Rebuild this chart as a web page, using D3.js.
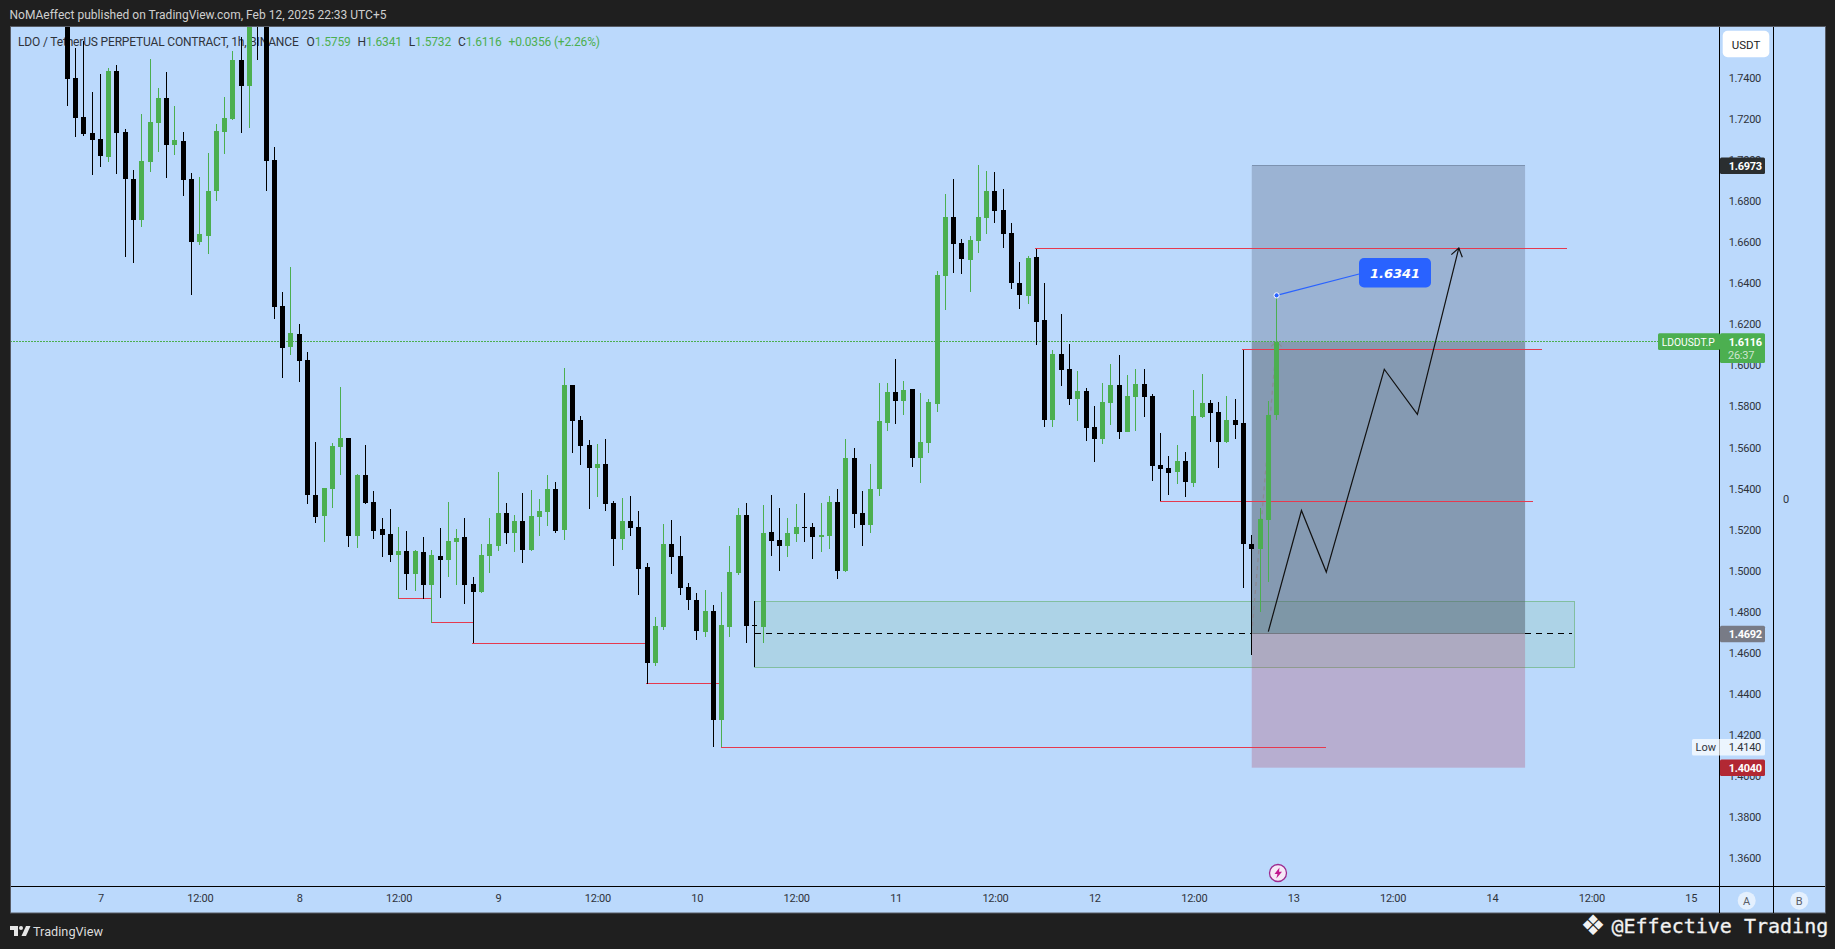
<!DOCTYPE html>
<html>
<head>
<meta charset="utf-8">
<title>LDOUSDT.P 1h</title>
<script src="https://cdn.jsdelivr.net/npm/d3@7"></script>
<style>
html, body { margin: 0; padding: 0; background: #1f1f1f; overflow: hidden; }
text { font-family: Roboto, sans-serif; }
.num { letter-spacing: -0.25px; }
</style>
</head>
<body>
<div id="chart"></div>
<script>
const opens = [
  1.7900,1.7400,1.7210,1.7132,1.7103,1.7017,1.7434,1.7137,1.6908,1.6710,
  1.6992,1.7182,1.7302,1.7075,1.7093,1.6908,1.6601,1.6632,1.6851,1.7138,
  1.7200,1.7488,1.7362,1.7900,1.7750,1.7000,1.6289,1.6091,1.6153,1.6026,
  1.5368,1.5268,1.5399,1.5602,1.5646,1.5170,1.5466,1.5334,1.5203,1.5178,
  1.5078,1.5095,1.4985,1.5091,1.4931,1.5071,1.5053,1.5139,1.5164,1.4935,
  1.4897,1.5073,1.5121,1.5281,1.5185,1.5242,1.5102,1.5263,1.5287,1.5398,
  1.5199,1.5904,1.5733,1.5612,1.5501,1.5519,1.5329,1.5154,1.5241,1.5212,
  1.5017,1.4551,1.4727,1.5129,1.5071,1.4920,1.4856,1.4702,1.4803,1.4273,
  1.4727,1.4990,1.5271,1.4735,1.4727,1.5188,1.5149,1.5120,1.5180,1.5212,
  1.5212,1.5165,1.5168,1.5334,1.4998,1.5548,1.5280,1.5222,1.5397,1.5719,
  1.5870,1.5828,1.5885,1.5548,1.5622,1.5812,1.6435,1.6723,1.6596,1.6513,
  1.6606,1.6718,1.6849,1.6757,1.6645,1.6401,1.6338,1.6528,1.6221,1.5734,
  1.6055,1.5982,1.5836,1.5875,1.5699,1.5641,1.5816,1.5904,1.5675,1.5846,
  1.5909,1.5850,1.5514,1.5500,1.5480,1.5534,1.5427,1.5748,1.5816,1.5773,
  1.5626,1.5734,1.5720,1.5130,1.5106,1.5247,1.5759
];
const highs = [
  1.7980,1.7548,1.7580,1.7332,1.7419,1.7449,1.7463,1.7151,1.6952,1.7224,
  1.7492,1.7351,1.7429,1.7263,1.7137,1.6937,1.6918,1.7034,1.7176,1.7307,
  1.7531,1.7601,1.7800,1.8000,1.7800,1.7062,1.6357,1.6479,1.6201,1.6065,
  1.5627,1.5402,1.5622,1.5894,1.5646,1.5471,1.5612,1.5388,1.5256,1.5300,
  1.5212,1.5193,1.5100,1.5164,1.5100,1.5207,1.5334,1.5203,1.5256,1.4969,
  1.5130,1.5256,1.5480,1.5329,1.5271,1.5378,1.5393,1.5349,1.5466,1.5432,
  1.5987,1.5904,1.5753,1.5636,1.5617,1.5641,1.5339,1.5353,1.5363,1.5290,
  1.5037,1.4774,1.5227,1.5246,1.5168,1.4939,1.4891,1.4905,1.4832,1.4895,
  1.5120,1.5305,1.5329,1.4852,1.5319,1.5368,1.5305,1.5256,1.5324,1.5378,
  1.5232,1.5329,1.5363,1.5397,1.5641,1.5597,1.5388,1.5519,1.5914,1.5914,
  1.6031,1.5924,1.5885,1.5865,1.5836,1.6460,1.6835,1.6908,1.6615,1.6630,
  1.6976,1.6947,1.6942,1.6859,1.6693,1.6503,1.6533,1.6567,1.6401,1.6075,
  1.6250,1.6104,1.5972,1.5889,1.5802,1.5914,1.6006,1.6050,1.5953,1.5982,
  1.5982,1.5860,1.5670,1.5558,1.5612,1.5578,1.5880,1.5958,1.5831,1.5821,
  1.5850,1.5836,1.6075,1.5174,1.5305,1.5827,1.6341
];
const lows = [
  1.7265,1.7114,1.7119,1.6929,1.6968,1.6992,1.6934,1.6529,1.6500,1.6676,
  1.6943,1.7041,1.6914,1.7026,1.6827,1.6344,1.6586,1.6544,1.6802,1.7031,
  1.7195,1.7133,1.7158,1.7489,1.6851,1.6227,1.5940,1.6052,1.5920,1.5326,
  1.5234,1.5141,1.5307,1.5467,1.5117,1.5112,1.5326,1.5155,1.5068,1.5043,
  1.4862,1.4907,1.4902,1.4862,1.4745,1.4868,1.4970,1.4931,1.4839,1.4647,
  1.4892,1.4990,1.5097,1.5131,1.5092,1.5039,1.5097,1.5170,1.5219,1.5185,
  1.5151,1.5575,1.5514,1.5300,1.5358,1.5290,1.5024,1.5100,1.5168,1.4881,
  1.4450,1.4535,1.4710,1.4983,1.4881,1.4808,1.4662,1.4676,1.4140,1.4140,
  1.4676,1.4978,1.4647,1.4530,1.4647,1.5071,1.4998,1.5066,1.5139,1.5139,
  1.5056,1.5090,1.5105,1.4959,1.4993,1.5207,1.5120,1.5183,1.5363,1.5680,
  1.5714,1.5758,1.5505,1.5427,1.5573,1.5773,1.6270,1.6450,1.6445,1.6357,
  1.6547,1.6640,1.6693,1.6572,1.6372,1.6274,1.6299,1.6099,1.5700,1.5700,
  1.5899,1.5807,1.5729,1.5631,1.5529,1.5617,1.5709,1.5641,1.5675,1.5680,
  1.5748,1.5436,1.5339,1.5368,1.5422,1.5358,1.5407,1.5743,1.5626,1.5500,
  1.5622,1.5641,1.4916,1.4589,1.4799,1.4945,1.5732
];
const closes = [
  1.7397,1.7207,1.7129,1.7098,1.7021,1.7434,1.7133,1.6909,1.6710,1.6995,
  1.7185,1.7302,1.7075,1.7098,1.6905,1.6602,1.6640,1.6849,1.7142,1.7205,
  1.7488,1.7362,1.7720,1.7700,1.6997,1.6286,1.6086,1.6157,1.6023,1.5370,
  1.5263,1.5402,1.5607,1.5646,1.5170,1.5466,1.5329,1.5194,1.5175,1.5078,
  1.5095,1.4985,1.5095,1.4931,1.5076,1.5052,1.5144,1.5159,1.4931,1.4897,
  1.5076,1.5130,1.5281,1.5185,1.5242,1.5102,1.5266,1.5290,1.5398,1.5194,
  1.5904,1.5730,1.5608,1.5501,1.5519,1.5326,1.5155,1.5241,1.5209,1.5009,
  1.4551,1.4730,1.5129,1.5068,1.4917,1.4858,1.4707,1.4803,1.4273,1.4735,
  1.4993,1.5271,1.4731,1.4730,1.5183,1.5146,1.5121,1.5183,1.5212,1.5209,
  1.5165,1.5173,1.5334,1.4999,1.5548,1.5277,1.5222,1.5397,1.5729,1.5870,
  1.5828,1.5880,1.5548,1.5626,1.5821,1.6440,1.6723,1.6591,1.6518,1.6611,
  1.6723,1.6849,1.6752,1.6640,1.6401,1.6343,1.6523,1.6211,1.5734,1.6055,
  1.5977,1.5836,1.5875,1.5695,1.5641,1.5821,1.5904,1.5675,1.5850,1.5909,
  1.5846,1.5509,1.5495,1.5475,1.5534,1.5431,1.5753,1.5816,1.5768,1.5626,
  1.5734,1.5709,1.5130,1.5106,1.5252,1.5759,1.6116
];

const timeLabels = ["7","12:00","8","12:00","9","12:00","10","12:00","11","12:00","12","12:00","13","12:00","14","12:00","15"];
const timeTicks = timeLabels.map((_, i) => 4 + i * 12);
const priceTicks = [1.36,1.38,1.40,1.42,1.44,1.46,1.48,1.50,1.52,1.54,1.56,1.58,1.60,1.62,1.64,1.66,1.68,1.70,1.72,1.74];

// horizontal red levels: candle index from, candle index to, price
const levelStart = [40, 44, 49, 70, 79, 117, 142, 132];
const levelEnd = [44, 49, 70, 79, 152, 181, 178, 177];
const levelPrice = [1.4862, 1.4745, 1.4647, 1.4450, 1.4140, 1.6567, 1.6075, 1.5339];

// drawn forecast path
const pathIndex = [145, 149, 152, 159, 163, 168];
const pathPrice = [1.4703, 1.5293, 1.4993, 1.5981, 1.5761, 1.6572];

const lastPrice = 1.6116, highPrice = 1.6341, targetPrice = 1.6973, entryPrice = 1.4692, stopPrice = 1.4040, lowPrice = 1.4140;
const zoneTop = 1.4852, zoneBottom = 1.4530, zoneFrom = 83, zoneTo = 182;
const boxFrom = 143, boxTo = 176;

const legendLabels = ["O", "H", "L", "C"];
const legendValues = ["1.5759", "1.6341", "1.5732", "1.6116"];

const width = 1835, height = 949;
const plotLeft = 10, plotTop = 27, paneRight = 1719, sideRight = 1773, plotRight = 1825, axisY = 886, plotBottom = 913;
const bg = "#bbd9fc", green = "#4caf50", red = "#e53a4f", ink = "#2f333b";

const x = d3.scaleLinear().domain([0, 146]).range([67.3, 1276.6]);
const y = d3.scaleLinear().domain([1.74, 1.36]).range([78, 858]);

const svg = d3.select("#chart").append("svg")
  .attr("width", width).attr("height", height)
  .style("display", "block");

svg.append("rect").attr("width", width).attr("height", height).attr("fill", "#1f1f1f");
svg.append("rect")
  .attr("x", plotLeft + 0.5).attr("y", plotTop - 0.5)
  .attr("width", plotRight - plotLeft).attr("height", plotBottom - plotTop + 0.5)
  .attr("fill", bg).attr("stroke", "#565a63");

svg.append("defs").append("clipPath").attr("id", "pane")
  .append("rect").attr("x", plotLeft + 1).attr("y", plotTop)
  .attr("width", paneRight - plotLeft - 1).attr("height", axisY - plotTop);

// header and footer
svg.append("text").attr("x", 9.5).attr("y", 19)
  .attr("font-size", 12).attr("fill", "#cfcfcf")
  .attr("textLength", 377).attr("lengthAdjust", "spacingAndGlyphs")
  .text("NoMAeffect published on TradingView.com, Feb 12, 2025 22:33 UTC+5");

const logo = svg.append("g").attr("transform", "translate(10,926)").attr("fill", "#e6e6e6");
logo.append("path").attr("d", "M0 0h8v10h-4v-6h-4z");
logo.append("circle").attr("cx", 11).attr("cy", 2).attr("r", 2);
logo.append("path").attr("d", "M16 0h4.5l-4.5 10h-4.5z");
svg.append("text").attr("x", 33).attr("y", 936)
  .attr("font-size", 13).attr("fill", "#dcdcdc")
  .attr("textLength", 70).attr("lengthAdjust", "spacingAndGlyphs")
  .text("TradingView");

svg.append("text").attr("x", 1593).attr("y", 935)
  .attr("text-anchor", "middle")
  .style("font-family", "'DejaVu Sans'")
  .attr("font-size", 28).attr("fill", "#f2f2f2").text("\u2756");
svg.append("text").attr("x", 1611.5).attr("y", 933)
  .style("font-family", "'DejaVu Sans Mono'")
  .attr("font-size", 20).attr("fill", "#f2f2f2")
  .attr("stroke", "#f2f2f2").attr("stroke-width", 0.3)
  .text("@Effective Trading");

// legend sits under the candles
const legend = svg.append("text").attr("x", 18).attr("y", 46)
  .attr("font-size", 12).attr("fill", ink)
  .attr("textLength", 582).attr("lengthAdjust", "spacing");
legend.append("tspan").text("LDO / TetherUS PERPETUAL CONTRACT, 1h, BINANCE");
legendLabels.forEach((l, i) => {
  legend.append("tspan").attr("dx", i === 0 ? 8 : 7).text(l);
  legend.append("tspan").attr("fill", green).text(legendValues[i]);
});
legend.append("tspan").attr("dx", 7).attr("fill", green).text("+0.0356 (+2.26%)");

const pane = svg.append("g").attr("clip-path", "url(#pane)");

// order block zone
pane.append("rect")
  .attr("x", x(zoneFrom)).attr("y", y(zoneTop))
  .attr("width", x(zoneTo) - x(zoneFrom)).attr("height", y(zoneBottom) - y(zoneTop))
  .attr("fill", green).attr("fill-opacity", 0.12)
  .attr("stroke", "#82bea0").attr("shape-rendering", "crispEdges");
pane.append("line")
  .attr("x1", x(zoneFrom)).attr("x2", x(zoneTo) - 3)
  .attr("y1", y(entryPrice)).attr("y2", y(entryPrice))
  .attr("stroke", "#000").attr("stroke-dasharray", "6 5").attr("shape-rendering", "crispEdges");

// position box
const boxParts = [
  { from: targetPrice, to: lastPrice, fill: "rgb(84,94,115)", opacity: 0.3 },
  { from: lastPrice, to: entryPrice, fill: "rgb(79,91,104)", opacity: 0.5 },
  { from: entryPrice, to: stopPrice, fill: "rgb(174,77,105)", opacity: 0.3 }
];
pane.selectAll("rect.box").data(boxParts).enter().append("rect")
  .classed("box", true)
  .attr("x", x(boxFrom)).attr("width", x(boxTo) - x(boxFrom))
  .attr("y", d => y(d.from)).attr("height", d => y(d.to) - y(d.from))
  .attr("fill", d => d.fill).attr("fill-opacity", d => d.opacity);
[[targetPrice, "#7c92b0"], [entryPrice, "#737882"]].forEach(p => {
  pane.append("line")
    .attr("x1", x(boxFrom)).attr("x2", x(boxTo))
    .attr("y1", y(p[0])).attr("y2", y(p[0]))
    .attr("stroke", p[1]).attr("shape-rendering", "crispEdges");
});

// last price line
pane.append("line")
  .attr("x1", plotLeft).attr("x2", 1658)
  .attr("y1", y(lastPrice)).attr("y2", y(lastPrice))
  .attr("stroke", green).attr("stroke-dasharray", "2 1").attr("shape-rendering", "crispEdges");

// red levels
pane.selectAll("line.level").data(levelPrice).enter().append("line")
  .classed("level", true)
  .attr("x1", (d, i) => x(levelStart[i]) - 1).attr("x2", (d, i) => x(levelEnd[i]))
  .attr("y1", d => y(d)).attr("y2", d => y(d))
  .attr("stroke", red).attr("shape-rendering", "crispEdges");

// dashed ghost forecast under the last candles
const ghostEnd = [x(146), y(lastPrice)];
pane.append("line")
  .attr("x1", x(boxFrom)).attr("y1", y(entryPrice))
  .attr("x2", ghostEnd[0]).attr("y2", ghostEnd[1])
  .attr("stroke", "#8a8a96").attr("stroke-width", 1.3).attr("stroke-dasharray", "4 4");
pane.append("path")
  .attr("d", d3.line()([[ghostEnd[0] - 5.5, ghostEnd[1] + 5], ghostEnd, [ghostEnd[0] + 5, ghostEnd[1] + 5]]))
  .attr("fill", "none").attr("stroke", "#8a8a96").attr("stroke-width", 1.2);

// candles
const candles = opens.map((o, i) => ({ i: i, o: o, h: highs[i], l: lows[i], c: closes[i] }));
const colorOf = d => d.c >= d.o ? green : "#000";
pane.selectAll("rect.wick").data(candles).enter().append("rect")
  .classed("wick", true)
  .attr("x", d => Math.floor(x(d.i))).attr("width", 1)
  .attr("y", d => Math.round(y(d.h)))
  .attr("height", d => Math.round(y(d.l)) - Math.round(y(d.h)))
  .attr("fill", colorOf).attr("shape-rendering", "crispEdges");
pane.selectAll("rect.body").data(candles).enter().append("rect")
  .classed("body", true)
  .attr("x", d => Math.floor(x(d.i)) - 2).attr("width", 5)
  .attr("y", d => Math.round(y(Math.max(d.o, d.c))))
  .attr("height", d => Math.max(1, Math.round(y(Math.min(d.o, d.c))) - Math.round(y(Math.max(d.o, d.c)))))
  .attr("fill", colorOf).attr("shape-rendering", "crispEdges");

// forecast path with arrow head
const pathPts = pathIndex.map((d, i) => [x(d), y(pathPrice[i])]);
pane.append("path")
  .attr("d", d3.line()(pathPts))
  .attr("fill", "none").attr("stroke", "#111").attr("stroke-width", 1.2);
const tip = pathPts[pathPts.length - 1], prev = pathPts[pathPts.length - 2];
const ang = Math.atan2(tip[1] - prev[1], tip[0] - prev[0]);
const wing = a => [tip[0] - 10 * Math.cos(ang + a), tip[1] - 10 * Math.sin(ang + a)];
pane.append("path")
  .attr("d", d3.line()([wing(0.6), tip, wing(-0.6)]))
  .attr("fill", "none").attr("stroke", "#111").attr("stroke-width", 1.2);

// blue callout
const calloutX = 1359, calloutY = y(1.6450);
pane.append("line")
  .attr("x1", x(146)).attr("y1", y(highPrice))
  .attr("x2", calloutX + 4).attr("y2", calloutY)
  .attr("stroke", "#2962ff").attr("stroke-width", 1.1);
pane.append("circle")
  .attr("cx", x(146)).attr("cy", y(highPrice)).attr("r", 2.6)
  .attr("fill", "#2962ff").attr("stroke", "#fff").attr("stroke-width", 1);
pane.append("rect")
  .attr("x", calloutX).attr("y", calloutY - 15)
  .attr("width", 72).attr("height", 29.5).attr("rx", 5)
  .attr("fill", "#2962ff");
pane.append("text")
  .attr("x", calloutX + 36).attr("y", calloutY + 4.5)
  .attr("text-anchor", "middle")
  .style("font-family", "'DejaVu Sans'")
  .attr("font-size", 13).attr("font-weight", "bold").attr("font-style", "italic")
  .attr("fill", "#fff").text("1.6341");

// lightning badge
const badge = pane.append("g").attr("transform", `translate(${x(146) + 1.4},873)`);
badge.append("circle").attr("r", 8.5).attr("fill", "#f6e8f6").attr("stroke", "#9c2a8f").attr("stroke-width", 1.3);
badge.append("path").attr("d", "M1.5 -5.5L-3.5 1h3l-1.2 4.5L4 -1.2h-3z").attr("fill", "#c2188f");

// axes
const yAxis = svg.append("g")
  .attr("transform", `translate(${paneRight},0)`)
  .call(d3.axisRight(y).tickValues(priceTicks).tickSize(0).tickPadding(9.7).tickFormat(d3.format(".4f")));
const xAxis = svg.append("g")
  .attr("transform", `translate(0,${axisY})`)
  .call(d3.axisBottom(x).tickValues(timeTicks).tickSize(0).tickPadding(8).tickFormat((d, i) => timeLabels[i]));
[yAxis, xAxis].forEach(a => {
  a.select(".domain").remove();
  a.attr("font-family", null).attr("font-size", null);
  a.selectAll("text").attr("font-size", 11).attr("fill", ink).classed("num", true);
});

// pane separators
[paneRight, sideRight].forEach(v => {
  svg.append("line").attr("x1", v + 0.5).attr("x2", v + 0.5)
    .attr("y1", plotTop).attr("y2", plotBottom)
    .attr("stroke", "#000");
});
svg.append("line").attr("x1", plotLeft + 1).attr("x2", plotRight)
  .attr("y1", axisY + 0.5).attr("y2", axisY + 0.5)
  .attr("stroke", "#000");

svg.append("text").attr("x", 1783).attr("y", 502.5)
  .attr("font-size", 11).attr("fill", ink).text("0");

// currency button
svg.append("rect").attr("x", 1722.7).attr("y", 30.7)
  .attr("width", 46.6).attr("height", 26.6).attr("rx", 5).attr("fill", "#fff");
svg.append("text").attr("x", 1746).attr("y", 48.5)
  .attr("text-anchor", "middle").attr("font-size", 11.5).attr("fill", "#222").text("USDT");

// price tags
const priceTags = [
  { price: targetPrice, fill: "#2a2e30" },
  { price: entryPrice, fill: "#787b86" },
  { price: stopPrice, fill: "#b22833" }
];
svg.selectAll("rect.tag").data(priceTags).enter().append("rect")
  .classed("tag", true)
  .attr("x", paneRight + 1).attr("width", 45)
  .attr("y", d => y(d.price) - 8.2).attr("height", 16.6).attr("rx", 1.5)
  .attr("fill", d => d.fill);
svg.selectAll("text.tag").data(priceTags).enter().append("text")
  .classed("tag", true).classed("num", true)
  .attr("x", 1728.7).attr("y", d => y(d.price) + 4)
  .attr("font-size", 11).attr("font-weight", "bold").attr("fill", "#fff")
  .text(d => d.price.toFixed(4));

// last price tag
svg.append("rect").attr("x", 1658).attr("y", y(lastPrice) - 8.2)
  .attr("width", 62).attr("height", 16.6).attr("rx", 1.5).attr("fill", green);
svg.append("rect").attr("x", paneRight + 1).attr("y", y(lastPrice) - 8.2)
  .attr("width", 45).attr("height", 29.6).attr("rx", 1.5).attr("fill", green);
svg.append("text").attr("x", 1661.7).attr("y", y(lastPrice) + 4)
  .attr("font-size", 11).attr("fill", "#fff")
  .attr("textLength", 53).attr("lengthAdjust", "spacingAndGlyphs").text("LDOUSDT.P");
svg.append("text").attr("x", 1728.7).attr("y", y(lastPrice) + 4).classed("num", true)
  .attr("font-size", 11).attr("font-weight", "bold").attr("fill", "#fff").text(lastPrice.toFixed(4));
svg.append("text").attr("x", 1728).attr("y", y(lastPrice) + 17).classed("num", true)
  .attr("font-size", 11).attr("fill", "#cfe6cf").text("26:37");

// low tag
svg.append("rect").attr("x", 1692).attr("y", y(lowPrice) - 8.2)
  .attr("width", 73).attr("height", 16.6).attr("rx", 1.5)
  .attr("fill", "#fff").attr("fill-opacity", 0.72);
svg.append("text").attr("x", 1695.5).attr("y", y(lowPrice) + 4)
  .attr("font-size", 11).attr("fill", ink).text("Low");
svg.append("text").attr("x", 1728.7).attr("y", y(lowPrice) + 4).classed("num", true)
  .attr("font-size", 11).attr("fill", ink).text(lowPrice.toFixed(4));

// A and B buttons
[[1746.7, "A"], [1799.3, "B"]].forEach(b => {
  svg.append("circle").attr("cx", b[0]).attr("cy", 900.7).attr("r", 9)
    .attr("fill", "#fff").attr("fill-opacity", 0.6);
  svg.append("text").attr("x", b[0]).attr("y", 905)
    .attr("text-anchor", "middle").attr("font-size", 11).attr("fill", "#5a5e68").text(b[1]);
});
</script>
</body>
</html>
